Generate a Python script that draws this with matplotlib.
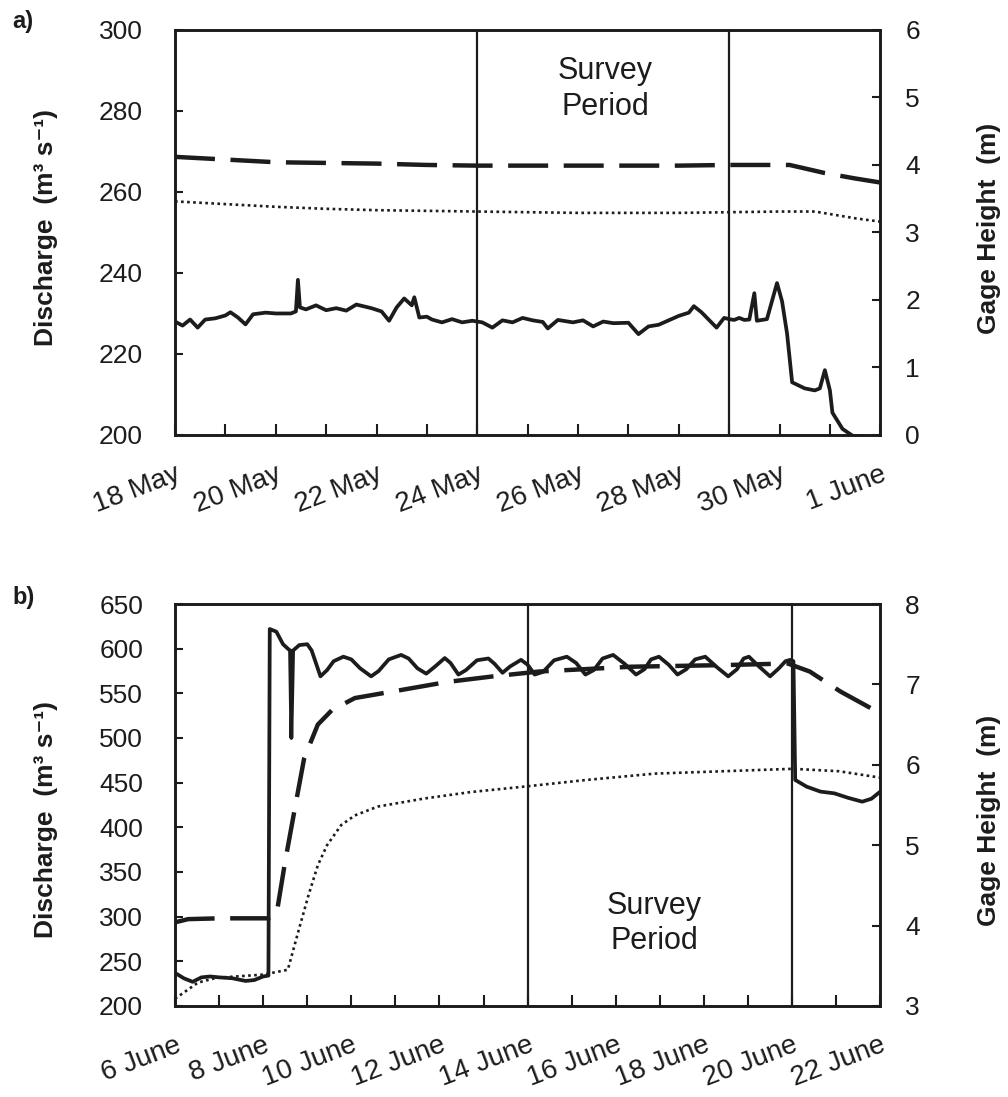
import numpy as np
import matplotlib.pyplot as plt

plt.rcParams['font.family'] = ['Liberation Sans', 'DejaVu Sans']

# ---- panel a: 18 May - 1 June (days after 18 May) ----
a_labels = ['18 May', '20 May', '22 May', '24 May', '26 May', '28 May', '30 May', '1 June']
a_survey = [6, 11]

a_q_day = [0.0, 0.15, 0.3, 0.45, 0.6, 0.8, 1.0, 1.1, 1.25, 1.4, 1.55, 1.8, 2.0, 2.3, 2.4,
           2.44, 2.48, 2.6, 2.8, 3.0, 3.2, 3.4, 3.6, 3.9, 4.1, 4.25, 4.4, 4.55, 4.7, 4.75,
           4.85, 5.0, 5.1, 5.3, 5.5, 5.7, 5.9, 6.1, 6.3, 6.5, 6.7, 6.9, 7.1, 7.3, 7.4, 7.6,
           7.9, 8.1, 8.3, 8.5, 8.7, 9.0, 9.2, 9.4, 9.6, 9.8, 10.0, 10.2, 10.3, 10.45, 10.6,
           10.75, 10.9, 11.0, 11.1, 11.2, 11.3, 11.4, 11.5, 11.55, 11.75, 11.95, 12.05,
           12.15, 12.25, 12.5, 12.7, 12.8, 12.9, 13.0, 13.05, 13.25, 13.45, 13.7, 14.0]
a_q = [228.0, 227.0, 228.5, 226.5, 228.5, 228.8, 229.5, 230.3, 229.0, 227.3, 229.8, 230.2,
       230.0, 230.0, 230.5, 238.3, 231.5, 231.0, 232.0, 230.8, 231.3, 230.7, 232.2, 231.3,
       230.5, 228.2, 231.5, 233.7, 232.0, 234.0, 229.0, 229.2, 228.5, 227.8, 228.6, 227.8,
       228.2, 227.8, 226.5, 228.3, 227.8, 228.9, 228.3, 227.9, 226.3, 228.4, 227.8, 228.3,
       226.8, 228.0, 227.6, 227.7, 224.9, 226.8, 227.2, 228.3, 229.4, 230.2, 231.8, 230.3,
       228.4, 226.5, 228.9, 228.6, 228.4, 228.9, 228.4, 228.5, 235.0, 228.2, 228.6, 237.5,
       233.0, 225.0, 213.0, 211.5, 211.0, 211.5, 216.0, 211.0, 205.5, 201.5, 199.8, 199.5,
       199.6]

a_h1_day = [0, 1, 2, 3, 4, 5, 6, 8, 10, 11, 12.2, 12.9, 13.5, 14]
a_h1 = [4.12, 4.08, 4.04, 4.03, 4.02, 4.00, 3.99, 3.99, 3.99, 4.00, 4.00, 3.88, 3.80, 3.74]

a_h2_day = [0, 0.5, 1, 2, 3, 4, 5, 6, 7, 8, 9, 10, 11, 12, 12.7, 13.5, 14]
a_h2 = [3.46, 3.44, 3.42, 3.38, 3.35, 3.33, 3.32, 3.31, 3.30, 3.29, 3.29, 3.29, 3.30,
        3.31, 3.31, 3.21, 3.16]

# ---- panel b: 6 June - 22 June (days after 6 June) ----
b_labels = ['6 June', '8 June', '10 June', '12 June', '14 June', '16 June', '18 June',
            '20 June', '22 June']
b_survey = [8, 14]

b_q_day = [0.0, 0.2, 0.4, 0.6, 0.8, 1.0, 1.3, 1.6, 1.8, 2.0, 2.12, 2.15, 2.3, 2.45, 2.56,
           2.61, 2.64, 2.68, 2.82, 3.0, 3.1, 3.3, 3.45, 3.6, 3.82, 4.0, 4.2, 4.45, 4.62,
           4.85, 5.13, 5.3, 5.5, 5.7, 5.9, 6.12, 6.25, 6.43, 6.6, 6.85, 7.11, 7.25, 7.43,
           7.6, 7.85, 8.0, 8.16, 8.35, 8.6, 8.89, 9.1, 9.31, 9.5, 9.7, 9.94, 10.2, 10.46,
           10.65, 10.8, 10.98, 11.2, 11.4, 11.6, 11.8, 12.03, 12.3, 12.55, 12.75, 12.9,
           13.02, 13.25, 13.5, 13.7, 13.85, 13.96, 14.03, 14.07, 14.33, 14.64, 14.96,
           15.27, 15.59, 15.8, 16.0]
b_q = [237, 231, 227, 232, 233, 232, 231, 228, 229, 233, 234, 622, 619, 605, 600,
       598, 500, 598, 604, 605, 598, 569, 576, 586, 591, 588, 578, 569, 575,
       588, 593, 589, 578, 572, 580, 589.5, 584, 571, 576, 587, 589, 583, 573,
       580, 587.5, 582, 571, 574, 587, 591, 584, 571, 576, 589, 593, 583, 571,
       577, 588, 591, 582, 571, 577, 588, 591, 579, 569, 577, 589,
       591, 580, 569, 578, 586, 587.5, 586, 453, 445.5, 440, 438,
       433, 428.7, 432, 440]

b_h1_day = [0, 0.3, 1, 2.1, 2.3, 2.5, 2.72, 2.93, 3.24, 3.56, 4.08, 5.13, 6.17, 7.22,
            8.26, 10.36, 12.45, 13.9, 14.4, 15.1, 16.0]
b_h1 = [4.04, 4.08, 4.09, 4.09, 4.13, 4.80, 5.46, 6.08, 6.50, 6.68, 6.83, 6.93, 7.03,
        7.10, 7.16, 7.22, 7.24, 7.26, 7.16, 6.91, 6.64]

b_h2_day = [0, 0.52, 0.94, 2.0, 2.56, 2.82, 3.03, 3.24, 3.45, 3.77, 4.08, 4.6, 5.65,
            6.7, 7.95, 9.31, 10.88, 12.45, 14.02, 15.06, 16.0]
b_h2 = [3.09, 3.29, 3.35, 3.39, 3.45, 3.97, 4.38, 4.75, 5.00, 5.25, 5.37, 5.48, 5.58,
        5.66, 5.73, 5.81, 5.89, 5.92, 5.95, 5.92, 5.84]

INK = '#1c1c1c'

fig = plt.figure(figsize=(10.08, 10.97), dpi=100)


def panel(rect, ndays, labels, survey, q_day, q, h1_day, h1, h2_day, h2,
          qlim, qstep, hlim, text_xy, letter, letter_y, lab_y):
    ax = fig.add_axes(rect)
    ax2 = ax.twinx()
    ax.set_zorder(ax2.get_zorder() + 1)
    ax.patch.set_visible(False)

    ax.plot(q_day, q, color=INK, lw=2.7, solid_joinstyle='round')
    ax2.plot(h1_day, h1, color=INK, lw=3.2, dashes=(9, 3.5))
    ax2.plot(h2_day, h2, color=INK, lw=1.9, linestyle=(0, (1, 1.3)))
    for d in survey:
        ax.axvline(d, color=INK, lw=1.6)

    ax.set_xlim(0, ndays)
    ax.set_ylim(*qlim)
    ax2.set_ylim(*hlim)
    ax.set_yticks(np.arange(qlim[0], qlim[1] + 1, qstep))
    ax2.set_yticks(np.arange(hlim[0], hlim[1] + 1, 1))

    ax.set_xticks(np.arange(0, ndays + 1))
    xt = []
    for i in range(ndays + 1):
        xt.append(labels[i // 2] if i % 2 == 0 else '')
    ax.set_xticklabels(xt, rotation=21, ha='right', va='top', rotation_mode='anchor')

    ax.tick_params(axis='x', direction='in', length=8, width=1.5, pad=19,
                   labelsize=20, colors=INK)
    ax.tick_params(axis='y', direction='in', length=6, width=1.5, pad=23,
                   labelsize=19, colors=INK)
    ax2.tick_params(axis='y', direction='in', length=6, width=1.5, pad=18,
                    labelsize=19, colors=INK)
    for a in (ax, ax2):
        for s in a.spines.values():
            s.set_linewidth(1.9)
            s.set_color(INK)

    ax.text(text_xy[0], text_xy[1], 'Survey\nPeriod', transform=ax.transAxes,
            ha='center', va='center', fontsize=22, linespacing=1.25, color=INK,
            family=['Liberation Sans Narrow', 'Liberation Sans', 'DejaVu Sans'])

    fig.text(0.012, letter_y, letter, fontsize=17, fontweight='bold', color=INK,
             va='center')
    fig.text(0.046, lab_y, 'Discharge  (m³ s⁻¹)', rotation=90, fontsize=19,
             fontweight='bold', ha='center', va='center', color=INK)
    fig.text(0.981, lab_y, 'Gage Height  (m)', rotation=90, fontsize=19,
             fontweight='bold', ha='center', va='center', color=INK)
    return ax


panel([0.1736, 0.6035, 0.6997, 0.3692], 14, a_labels, a_survey, a_q_day, a_q,
      a_h1_day, a_h1, a_h2_day, a_h2, (200, 300), 20, (0, 6),
      (0.61, 0.855), 'a)', 0.98, 1 - 228 / 1097)
panel([0.1736, 0.083, 0.6997, 0.3664], 16, b_labels, b_survey, b_q_day, b_q,
      b_h1_day, b_h1, b_h2_day, b_h2, (200, 650), 50, (3, 8),
      (0.68, 0.205), 'b)', 0.455, 1 - 820 / 1097)

fig.savefig('out.png', dpi=100)
